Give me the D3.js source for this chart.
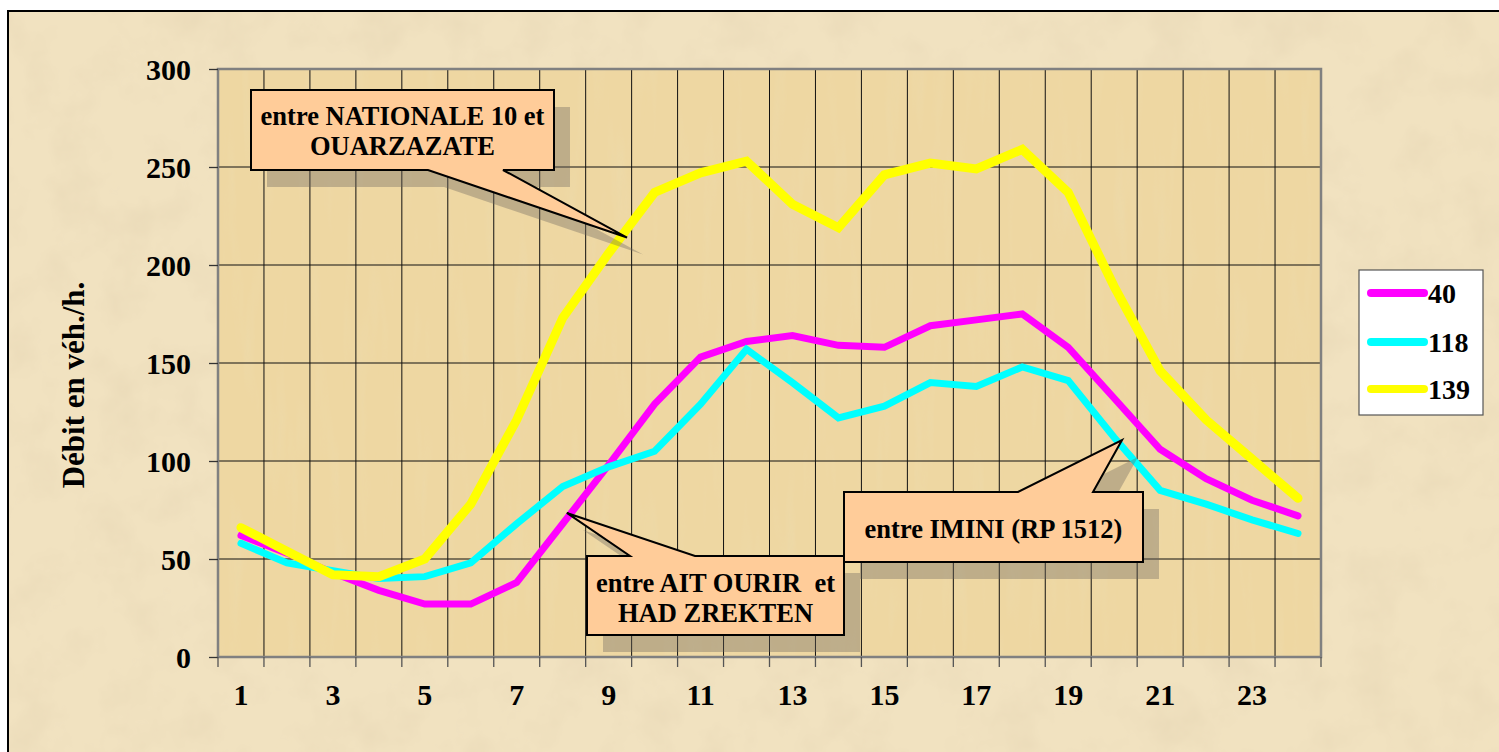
<!DOCTYPE html>
<html>
<head>
<meta charset="utf-8">
<script src="https://cdn.jsdelivr.net/npm/d3@7"></script>
<style>
  html, body { margin: 0; padding: 0; background: #ffffff; }
  svg { display: block; }
  text { font-family: "Liberation Serif", "Times New Roman", serif; font-weight: bold; fill: #000; }
</style>
</head>
<body>
<svg id="chart" width="1499" height="752"></svg>
<script>
// ---------- data ----------
const hours = [1,2,3,4,5,6,7,8,9,10,11,12,13,14,15,16,17,18,19,20,21,22,23,24];
const seriesNames = ["40", "118", "139"];
const values40  = [62, 53, 43, 34, 27, 27, 38, 68, 98, 129, 153, 161, 164, 159, 158, 169, 172, 175, 158, 132, 106, 91, 80, 72];
const values118 = [58, 48, 44, 40, 41, 48, 68, 87, 97, 105, 129, 157, 140, 122, 128, 140, 138, 148, 141, 112, 85, 78, 70, 63];
const values139 = [66, 54, 42, 41, 50, 78, 121, 173, 206, 237, 247, 253, 231, 219, 246, 252, 249, 259, 237, 189, 146, 121, 101, 81];
const yTicks = [0, 50, 100, 150, 200, 250, 300];
const xTickLabels = [1, 3, 5, 7, 9, 11, 13, 15, 17, 19, 21, 23];
const yTitle = "Débit en véh./h.";
const calloutTexts = [
  ["entre NATIONALE 10 et", "OUARZAZATE"],
  ["entre AIT OURIR\u00a0 et", "HAD ZREKTEN"],
  ["entre IMINI (RP 1512)"]
];
// callout pointer tips in data space [hour, value]
const calloutTips = [[9.40, 214], [8.09, 73.5], [20.17, 110.7]];

// ---------- layout ----------
const W = 1499, H = 752;
const plot = { left: 218, top: 69, right: 1321, bottom: 657 };
const colors = ["#ff00ff", "#00ffff", "#ffff00"];
const widths = [7, 7, 9];
const seriesValues = [values40, values118, values139];

const svg = d3.select("#chart");
const defs = svg.append("defs");

// parchment texture (outer)
const f1 = defs.append("filter").attr("id", "parch").attr("x", 0).attr("y", 0).attr("width", "100%").attr("height", "100%");
f1.append("feTurbulence").attr("type", "fractalNoise").attr("baseFrequency", "0.02").attr("numOctaves", 4).attr("seed", 7).attr("result", "n");
f1.append("feColorMatrix").attr("in", "n").attr("type", "matrix")
  .attr("values", "0 0 0 0 0.78  0 0 0 0 0.66  0 0 0 0 0.45  0 0 0 -1.0 0.56").attr("result", "c");
f1.append("feComposite").attr("in", "c").attr("in2", "SourceGraphic").attr("operator", "in");

// fibrous texture (plot)
const f2 = defs.append("filter").attr("id", "fiber").attr("x", 0).attr("y", 0).attr("width", "100%").attr("height", "100%");
f2.append("feTurbulence").attr("type", "fractalNoise").attr("baseFrequency", "0.07 0.008").attr("numOctaves", 3).attr("seed", 3).attr("result", "n");
f2.append("feColorMatrix").attr("in", "n").attr("type", "matrix")
  .attr("values", "0 0 0 0 0.84  0 0 0 0 0.72  0 0 0 0 0.44  0 0 0 -0.9 0.42").attr("result", "c");
f2.append("feComposite").attr("in", "c").attr("in2", "SourceGraphic").attr("operator", "in");

// outer frame
svg.append("rect").attr("x", 8).attr("y", 11).attr("width", W + 20).attr("height", H + 20)
  .attr("fill", "#f1e2c0").attr("stroke", "#000").attr("stroke-width", 2);
svg.append("rect").attr("x", 9).attr("y", 12).attr("width", W).attr("height", H)
  .attr("fill", "#f1e2c0").attr("filter", "url(#parch)");

// scales
const x = d3.scaleBand().domain(hours).range([plot.left, plot.right]).paddingInner(0).paddingOuter(0);
const step = x.step();
const xc = h => x(hours[0]) + step / 2 + (h - hours[0]) * step;
const y = d3.scaleLinear().domain([0, 300]).range([plot.bottom, plot.top]);

// plot background
svg.append("rect").attr("x", plot.left).attr("y", plot.top)
  .attr("width", plot.right - plot.left).attr("height", plot.bottom - plot.top)
  .attr("fill", "#eed7a2");
svg.append("rect").attr("x", plot.left).attr("y", plot.top)
  .attr("width", plot.right - plot.left).attr("height", plot.bottom - plot.top)
  .attr("fill", "#eed7a2").attr("filter", "url(#fiber)");

// gridlines
const grid = svg.append("g").attr("stroke", "#111").attr("stroke-width", 1);
yTicks.filter(v => v > 0 && v < 300).forEach(v => {
  grid.append("line").attr("x1", plot.left).attr("x2", plot.right).attr("y1", y(v)).attr("y2", y(v));
});
hours.slice(1).forEach(h => {
  grid.append("line").attr("x1", x(h)).attr("x2", x(h)).attr("y1", plot.top).attr("y2", plot.bottom);
});

// plot border
svg.append("rect").attr("x", plot.left).attr("y", plot.top)
  .attr("width", plot.right - plot.left).attr("height", plot.bottom - plot.top)
  .attr("fill", "none").attr("stroke", "#808080").attr("stroke-width", 2.5);

// y axis
const yAxis = d3.axisLeft(y).tickValues(yTicks).tickSize(9).tickPadding(18).tickFormat(d3.format("d"));
const gy = svg.append("g").attr("transform", `translate(${plot.left},0)`).call(yAxis);
gy.select(".domain").remove();
gy.selectAll(".tick line").attr("stroke", "#333").attr("stroke-width", 1.3);
gy.selectAll(".tick text").style("font-size", "30px").style("font-family", "'Liberation Serif', serif")
  .style("font-weight", "bold").attr("fill", "#000").attr("dy", "0.34em");

// x axis: labels at band centres, ticks at band boundaries
const xAxis = d3.axisBottom(x).tickValues(xTickLabels).tickSize(0).tickPadding(0);
const gx = svg.append("g").attr("transform", `translate(0,${plot.bottom})`).call(xAxis);
gx.select(".domain").remove();
gx.selectAll(".tick text").style("font-size", "30px").style("font-family", "'Liberation Serif', serif")
  .style("font-weight", "bold").attr("fill", "#000").attr("y", 48).attr("dy", 0);
const bounds = hours.map(h => x(h)).concat([plot.right]);
svg.append("g").selectAll("line").data(bounds).join("line")
  .attr("x1", d => d).attr("x2", d => d).attr("y1", plot.bottom).attr("y2", plot.bottom + 10)
  .attr("stroke", "#555").attr("stroke-width", 1.3);

// y title
svg.append("text").attr("transform", `translate(84,385) rotate(-90)`)
  .attr("text-anchor", "middle").style("font-size", "31px").text(yTitle);

// series lines
const line = d3.line().x((d, i) => x(hours[i]) + step / 2).y(d => y(d));
seriesValues.forEach((vals, k) => {
  svg.append("path").datum(vals).attr("d", line)
    .attr("fill", "none").attr("stroke", colors[k]).attr("stroke-width", widths[k])
    .attr("stroke-linecap", "round").attr("stroke-linejoin", "miter");
});

// callouts
const boxes = [
  { x0: 251, y0: 90, x1: 554, y1: 170, side: "bottom", b0: 428, b1: 503, lines: [125, 155] },
  { x0: 587, y0: 556, x1: 844, y1: 635, side: "top", b0: 630, b1: 695, lines: [592, 622] },
  { x0: 844, y0: 492, x1: 1143, y1: 562, side: "top", b0: 1018, b1: 1093, lines: [538] }
];
function calloutPath(b, tip) {
  const [tx, ty] = tip;
  if (b.side === "bottom") {
    return `M${b.x0},${b.y0}H${b.x1}V${b.y1}H${b.b1}L${tx},${ty}L${b.b0},${b.y1}H${b.x0}Z`;
  }
  return `M${b.x0},${b.y0}H${b.b0}L${tx},${ty}L${b.b1},${b.y0}H${b.x1}V${b.y1}H${b.x0}Z`;
}
boxes.forEach((b, i) => {
  const tip = [xc(calloutTips[i][0]), y(calloutTips[i][1])];
  svg.append("path").attr("d", calloutPath(b, tip)).attr("transform", "translate(16,17)")
    .attr("fill", "rgba(105,100,95,0.36)");
});
boxes.forEach((b, i) => {
  const tip = [xc(calloutTips[i][0]), y(calloutTips[i][1])];
  svg.append("path").attr("d", calloutPath(b, tip))
    .attr("fill", "#ffcc99").attr("stroke", "#000").attr("stroke-width", 2).attr("stroke-linejoin", "miter");
  const cx = (b.x0 + b.x1) / 2;
  calloutTexts[i].forEach((t, j) => {
    svg.append("text").attr("x", cx).attr("y", b.lines[j]).attr("text-anchor", "middle")
      .style("font-size", "26.5px").text(t);
  });
});

// legend
const leg = { x0: 1359, y0: 270, x1: 1483, y1: 415 };
svg.append("rect").attr("x", leg.x0).attr("y", leg.y0).attr("width", leg.x1 - leg.x0).attr("height", leg.y1 - leg.y0)
  .attr("fill", "#ffffff").attr("stroke", "#555").attr("stroke-width", 1.2);
const legY = [293, 342, 389];
seriesNames.forEach((n, k) => {
  svg.append("line").attr("x1", 1371).attr("x2", 1424).attr("y1", legY[k]).attr("y2", legY[k])
    .attr("stroke", colors[k]).attr("stroke-width", 8).attr("stroke-linecap", "round");
  svg.append("text").attr("x", 1428).attr("y", legY[k] + 10).style("font-size", "28px").text(n);
});
</script>
</body>
</html>
